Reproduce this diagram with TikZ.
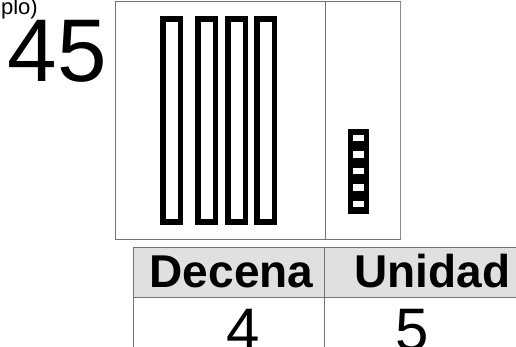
\documentclass[tikz,border=0pt]{standalone}
\usepackage{fontspec}
\setmainfont{Liberation Sans}
\begin{document}
\begin{tikzpicture}[x=1pt,y=-1pt,
  frame/.style={draw=black!55,line width=1pt},
  rod/.style={draw=black,line width=5.5pt},
  hdr/.style={font=\fontsize{46}{46}\selectfont\bfseries,inner sep=0pt,anchor=base},
  dig/.style={font=\fontsize{60}{60}\selectfont,inner sep=0pt,anchor=base}]
\useasboundingbox (0,0) rectangle (516,347);
% caption fragment and number
\node[font=\fontsize{22}{22}\selectfont,inner sep=0pt,anchor=base east] (cap) at (38,15) {plo)};
\node[font=\fontsize{89}{89}\selectfont,inner sep=0pt,anchor=base west] (num) at (7.7,82) {45};
% top box
\draw[frame] (115,2) rectangle (400,239);
\draw[frame] (325,2) -- (325,239);
\draw[draw=black!45,line width=1.5pt] (400.5,2) -- (400.5,239);
% tens rods
\foreach \x in {163,198,228,257}{
  \draw[rod] (\x,19) rectangle ++(17.5,203);
}
% unit block
\fill[black] (348,129) rectangle (369,214);
\foreach \y in {135,151.5,168,184.5,201}{
  \fill[white] (353.3,\y) rectangle ++(11,6.5);
}
% table
\fill[black!12] (133,247) rectangle (520,297);
\draw[frame] (520,247) -- (133,247) -- (133,350);
\draw[frame] (133,297) -- (520,297);
\draw[frame] (324,247) -- (324,350);
\node[hdr] (dec) at (231.5,287) {Decena};
\node[hdr] (uni) at (432.5,287) {Unidad};
\node[dig] (four) at (243,350) {4};
\node[dig] (five) at (412.5,350) {5};
\end{tikzpicture}
\end{document}
